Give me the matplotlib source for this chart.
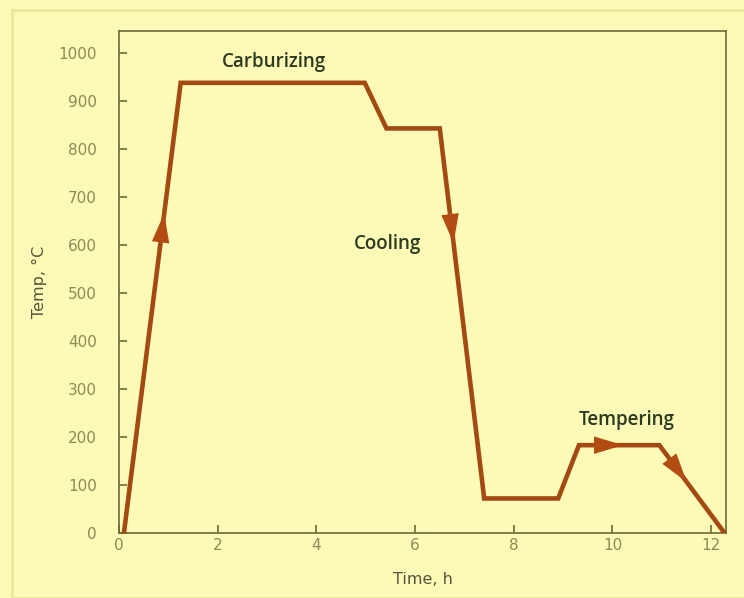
import matplotlib.pyplot as plt
from matplotlib.patches import Rectangle

# heat-treatment cycle
time_h = [0.1, 1.25, 4.98, 5.42, 6.5, 7.4, 8.9, 9.32, 10.95, 12.27]
temp_c = [0, 938, 938, 843, 843, 72, 72, 183, 183, 0]

# arrows: (segment index, fraction along the segment)
arrows = [(0, 0.71), (4, 0.31), (7, 0.55), (8, 0.42)]

stages = ["Carburizing", "Cooling", "Tempering"]
stage_x = [3.15, 5.45, 10.28]
stage_y = [982, 603, 236]

xticks = [0, 2, 4, 6, 8, 10, 12]
yticks = list(range(0, 1001, 100))

bg = "#fdf9b6"
line_c = "#a24a12"
axis_c = "#6b6b35"
tick_c = "#8b8b55"
text_c = "#2c3a22"

fig = plt.figure(figsize=(7.44, 5.98), dpi=100, facecolor=bg)
fig.patches.append(Rectangle((12 / 744, 0), 1, 1 - 10 / 598, transform=fig.transFigure,
                             fill=False, edgecolor="#ebe79c", linewidth=2))
ax = fig.add_axes([119 / 744, 1 - 533 / 598, (726 - 119) / 744, (533 - 31) / 598])
ax.set_facecolor(bg)

ax.plot(time_h, temp_c, color=line_c, linewidth=3.3, solid_joinstyle="miter", zorder=3)

for i, f in arrows:
    x0, y0 = time_h[i], temp_c[i]
    x1, y1 = time_h[i + 1], temp_c[i + 1]
    tx, ty = x0 + (x1 - x0) * f, y0 + (y1 - y0) * f
    bx, by = x0 + (x1 - x0) * (f - 0.1), y0 + (y1 - y0) * (f - 0.1)
    ax.annotate("", xy=(tx, ty), xytext=(bx, by),
                arrowprops=dict(arrowstyle="-|>,head_length=1.0,head_width=0.3",
                                mutation_scale=21, color="#b24c12",
                                linewidth=0, shrinkA=0, shrinkB=0), zorder=4)

for s, x, y in zip(stages, stage_x, stage_y):
    ax.text(x, y, s, color=text_c, fontsize=13.5, ha="center", va="center",
            family="Open Sans", fontweight="semibold")

ax.set_xlim(0, 12.3)
ax.set_ylim(0, 1046)
ax.set_xticks(xticks)
ax.set_yticks(yticks)
ax.tick_params(direction="in", length=6, width=1.2, color=axis_c, labelcolor=tick_c,
               labelsize=11)
ax.tick_params(axis="y", pad=16)
for sp in ax.spines.values():
    sp.set_color(axis_c)
    sp.set_linewidth(1.2)

ax.set_xlabel("Time, h", color="#55553a", fontsize=11.5, labelpad=14)
ax.set_ylabel("Temp, °C", color="#55553a", fontsize=11.5, labelpad=8)

fig.savefig("out.png", dpi=100, facecolor=bg)
